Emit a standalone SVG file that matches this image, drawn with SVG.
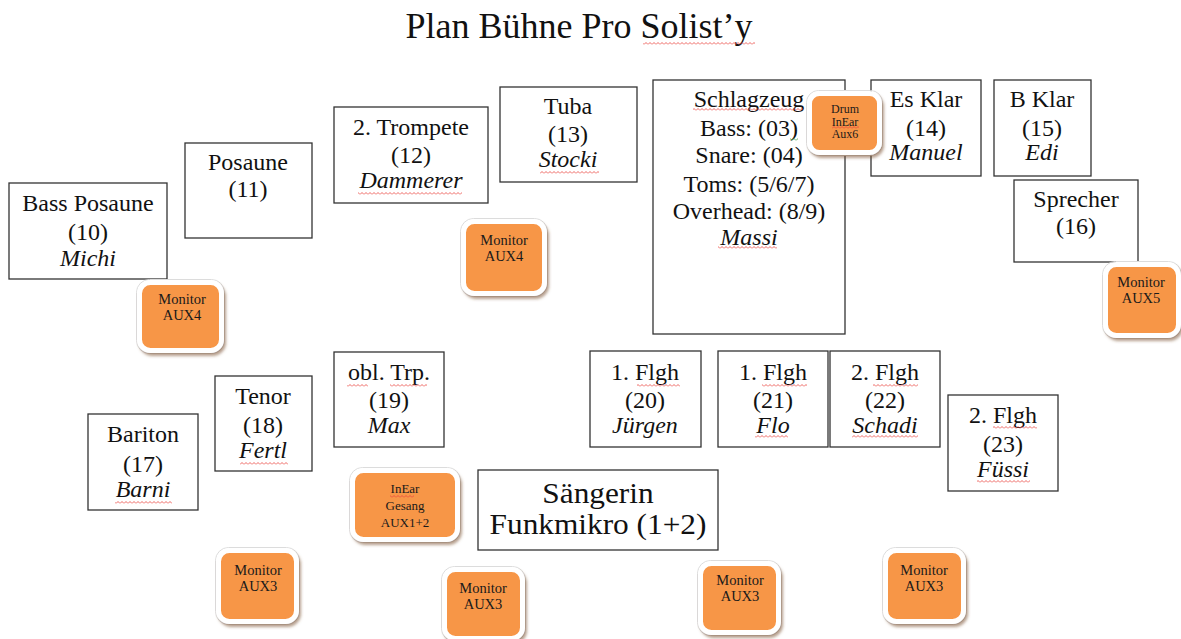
<svg xmlns="http://www.w3.org/2000/svg" width="1181" height="639" viewBox="0 0 1181 639">
<defs>
<style>
.box{fill:#fff;stroke:#333;stroke-width:1.3}
.t{font-family:"Liberation Serif","Times New Roman",serif;font-size:24px;fill:#111;text-anchor:middle}
.i{font-style:italic}
.mon{fill:#F79646;stroke:#fff;stroke-width:5;filter:url(#sh)}
.edge{fill:none;stroke:#dcdcdc;stroke-width:1}
.mt{font-family:"Liberation Serif","Times New Roman",serif;font-size:14.5px;fill:#1a1a1a;text-anchor:middle}
.st{font-family:"Liberation Serif","Times New Roman",serif;font-size:13px;fill:#1a1a1a;text-anchor:middle}
.dt{font-family:"Liberation Serif","Times New Roman",serif;font-size:12px;fill:#1a1a1a;text-anchor:middle}
.sq{fill:url(#sqr)}
.sqg{fill:url(#sqg)}
</style>
<filter id="sh" x="-20%" y="-20%" width="150%" height="150%">
<feDropShadow dx="2" dy="3" stdDeviation="1.6" flood-color="#7a5030" flood-opacity="0.55"/>
</filter>
<pattern id="sqr" width="4" height="3" patternUnits="userSpaceOnUse">
<path d="M0,2.5 L2,0.5 L4,2.5" fill="none" stroke="#e8403a" stroke-width="0.8"/>
</pattern>
<pattern id="sqg" width="4" height="3" patternUnits="userSpaceOnUse">
<path d="M0,2.5 L2,0.5 L4,2.5" fill="none" stroke="#3a9a3a" stroke-width="0.8"/>
</pattern>
</defs>
<rect width="1181" height="639" fill="#fff"/>

<g id="title">
<text x="579" y="38" style="font-family:'Liberation Serif','Times New Roman',serif;font-size:36px;fill:#111;text-anchor:middle">Plan Bühne Pro Solist’y</text>
<rect class="sq" x="643" y="42" width="112" height="3"/>
</g>

<g id="connectors"></g>

<g id="bass-posaune">
<rect class="box" x="9" y="183" width="158" height="96"/>
<text class="t" x="88" y="211">Bass Posaune</text>
<text class="t" x="88" y="240">(10)</text>
<text class="t i" x="88" y="266">Michi</text>
</g>

<g id="posaune">
<rect class="box" x="185" y="143" width="127" height="95"/>
<text class="t" x="248" y="170">Posaune</text>
<text class="t" x="248" y="197">(11)</text>
</g>

<g id="trompete2">
<rect class="box" x="334" y="107" width="154" height="96"/>
<text class="t" x="411" y="135">2. Trompete</text>
<text class="t" x="411" y="163">(12)</text>
<text class="t i" x="411" y="188">Dammerer</text>
<rect class="sq" x="358" y="192" width="104" height="3"/>
</g>

<g id="tuba">
<rect class="box" x="500" y="87" width="137" height="95"/>
<text class="t" x="568" y="114">Tuba</text>
<text class="t" x="568" y="142">(13)</text>
<text class="t i" x="568" y="167">Stocki</text>
<rect class="sq" x="540" y="171" width="59" height="3"/>
</g>

<g id="schlagzeug">
<rect class="box" x="653" y="80" width="192" height="254"/>
<text class="t" x="749" y="107">Schlagzeug</text>
<text class="t" x="749" y="136">Bass: (03)</text>
<text class="t" x="749" y="163">Snare: (04)</text>
<text class="t" x="749" y="192">Toms: (5/6/7)</text>
<text class="t" x="749" y="219">Overhead: (8/9)</text>
<text class="t i" x="749" y="245">Massi</text>
<rect class="sq" x="693" y="108" width="110" height="3"/>
<rect class="sqg" x="790" y="138" width="8" height="3"/>
<rect class="sq" x="718" y="246" width="59" height="3"/>
</g>

<g id="es-klar">
<rect class="box" x="871" y="80" width="110" height="96"/>
<text class="t" x="926" y="107">Es Klar</text>
<text class="t" x="926" y="136">(14)</text>
<text class="t i" x="926" y="160">Manuel</text>
</g>

<g id="b-klar">
<rect class="box" x="994" y="80" width="97" height="96"/>
<text class="t" x="1042" y="107">B Klar</text>
<text class="t" x="1042" y="136">(15)</text>
<text class="t i" x="1042" y="160">Edi</text>
</g>

<g id="sprecher">
<rect class="box" x="1014" y="180" width="124" height="82"/>
<text class="t" x="1076" y="207">Sprecher</text>
<text class="t" x="1076" y="234">(16)</text>
</g>

<g id="bariton">
<rect class="box" x="88" y="414" width="110" height="96"/>
<text class="t" x="143" y="442">Bariton</text>
<text class="t" x="143" y="472">(17)</text>
<text class="t i" x="143" y="497">Barni</text>
<rect class="sq" x="115" y="501" width="57" height="3"/>
</g>

<g id="tenor">
<rect class="box" x="215" y="376" width="97" height="95"/>
<text class="t" x="263" y="404">Tenor</text>
<text class="t" x="263" y="433">(18)</text>
<text class="t i" x="263" y="458">Fertl</text>
<rect class="sq" x="240" y="462" width="48" height="3"/>
</g>

<g id="obl-trp">
<rect class="box" x="334" y="352" width="110" height="95"/>
<text class="t" x="389" y="380">obl. Trp.</text>
<text class="t" x="389" y="408">(19)</text>
<text class="t i" x="389" y="433">Max</text>
<rect class="sq" x="347" y="384" width="21" height="3"/>
<rect class="sq" x="390" y="384" width="37" height="3"/>
</g>

<g id="flgh20">
<rect class="box" x="590" y="351" width="111" height="96"/>
<text class="t" x="645" y="380">1. Flgh</text>
<text class="t" x="645" y="408">(20)</text>
<text class="t i" x="645" y="433">Jürgen</text>
<rect class="sq" x="637" y="384" width="43" height="3"/>
</g>

<g id="flgh21">
<rect class="box" x="718" y="351" width="110" height="96"/>
<text class="t" x="773" y="380">1. Flgh</text>
<text class="t" x="773" y="408">(21)</text>
<text class="t i" x="773" y="433">Flo</text>
<rect class="sq" x="762" y="384" width="45" height="3"/>
<rect class="sq" x="755" y="435" width="33" height="3"/>
</g>

<g id="flgh22">
<rect class="box" x="830" y="351" width="110" height="96"/>
<text class="t" x="885" y="380">2. Flgh</text>
<text class="t" x="885" y="408">(22)</text>
<text class="t i" x="885" y="433">Schadi</text>
<rect class="sq" x="873" y="384" width="45" height="3"/>
<rect class="sq" x="852" y="435" width="66" height="3"/>
</g>

<g id="flgh23">
<rect class="box" x="948" y="395" width="110" height="96"/>
<text class="t" x="1003" y="423">2. Flgh</text>
<text class="t" x="1003" y="452">(23)</text>
<text class="t i" x="1003" y="477">Füssi</text>
<rect class="sq" x="993" y="426" width="44" height="3"/>
<rect class="sq" x="977" y="480" width="53" height="3"/>
</g>

<g id="saengerin">
<rect class="box" x="478" y="470" width="240" height="80"/>
<g transform="translate(598 0) scale(1.08 1) translate(-598 0)">
<text class="t" x="598" y="503" style="font-size:29px">Sängerin</text>
<text class="t" x="598" y="534" style="font-size:29px">Funkmikro (1+2)</text>
</g>
</g>

<g id="monitor-aux4-left">
<rect class="edge" x="136.5" y="279.5" width="88" height="74" rx="13"/>
<rect class="mon" x="139.5" y="282.5" width="82" height="68" rx="11"/>
<text class="mt" x="182" y="304">Monitor</text>
<text class="mt" x="182" y="320">AUX4</text>
</g>

<g id="monitor-aux4-mid">
<rect class="edge" x="460.5" y="218.5" width="87" height="78" rx="13"/>
<rect class="mon" x="463.5" y="221.5" width="81" height="72" rx="11"/>
<text class="mt" x="504" y="245">Monitor</text>
<text class="mt" x="504" y="261">AUX4</text>
</g>

<g id="drum-inear">
<rect class="edge" x="806.5" y="90.5" width="76" height="65" rx="12"/>
<rect class="mon" x="809.5" y="93.5" width="70" height="59" rx="10"/>
<text class="dt" x="845" y="113">Drum</text>
<text class="dt" x="845" y="125.5">InEar</text>
<text class="dt" x="845" y="138">Aux6</text>
<rect class="sq" x="832" y="126" width="27" height="3"/>
</g>

<g id="monitor-aux5">
<rect class="edge" x="1102.5" y="261.5" width="79" height="77" rx="13"/>
<rect class="mon" x="1105.5" y="264.5" width="73" height="71" rx="11"/>
<text class="mt" x="1141" y="287">Monitor</text>
<text class="mt" x="1141" y="303">AUX5</text>
</g>

<g id="inear-gesang">
<rect class="edge" x="349.5" y="467.5" width="111" height="75" rx="13"/>
<rect class="mon" x="352.5" y="470.5" width="105" height="69" rx="11"/>
<text class="st" x="405" y="493">InEar</text>
<text class="st" x="405" y="510">Gesang</text>
<text class="st" x="405" y="527">AUX1+2</text>
<rect class="sq" x="390" y="495" width="24" height="3"/>
</g>

<g id="monitor-aux3-1">
<rect class="edge" x="215.5" y="547.5" width="84" height="77" rx="13"/>
<rect class="mon" x="218.5" y="550.5" width="78" height="71" rx="11"/>
<text class="mt" x="258" y="575">Monitor</text>
<text class="mt" x="258" y="591">AUX3</text>
</g>

<g id="monitor-aux3-2">
<rect class="edge" x="441.5" y="566.5" width="84" height="75" rx="13"/>
<rect class="mon" x="444.5" y="569.5" width="78" height="69" rx="11"/>
<text class="mt" x="483" y="593">Monitor</text>
<text class="mt" x="483" y="609">AUX3</text>
</g>

<g id="monitor-aux3-3">
<rect class="edge" x="697.5" y="560.5" width="84" height="75" rx="13"/>
<rect class="mon" x="700.5" y="563.5" width="78" height="69" rx="11"/>
<text class="mt" x="740" y="585">Monitor</text>
<text class="mt" x="740" y="601">AUX3</text>
</g>

<g id="monitor-aux3-4">
<rect class="edge" x="882.5" y="547.5" width="84" height="77" rx="13"/>
<rect class="mon" x="885.5" y="550.5" width="78" height="71" rx="11"/>
<text class="mt" x="924" y="575">Monitor</text>
<text class="mt" x="924" y="591">AUX3</text>
</g>
</svg>
